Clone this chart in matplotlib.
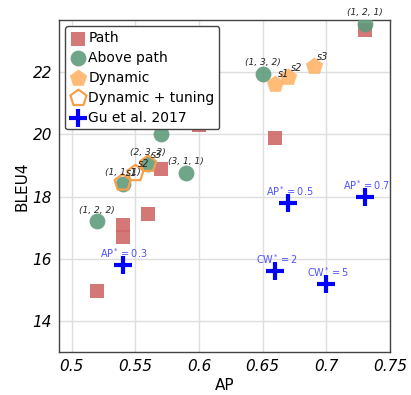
import matplotlib
matplotlib.use("Agg")
import matplotlib.pyplot as plt

# Path configurations
path_ap = [0.52, 0.54, 0.54, 0.56, 0.57, 0.60, 0.66, 0.73]
path_bleu = [14.95, 17.1, 16.7, 17.45, 18.9, 20.3, 19.9, 23.35]

# Above-path configurations with their (a, b, c) labels
above_ap = [0.73, 0.65, 0.57, 0.56, 0.59, 0.54, 0.52]
above_bleu = [23.57, 21.96, 20.0, 19.05, 18.75, 18.4, 17.2]
above_labels = ["(1, 2, 1)", "(1, 3, 2)", "(2, 1, 1)", "(2, 3, 2)",
                "(3, 1, 1)", "(1, 1, 1)", "(1, 2, 2)"]

# Dynamic strategies
dyn_ap = [0.66, 0.67, 0.69]
dyn_bleu = [21.64, 21.84, 22.2]
dyn_labels = ["s1", "s2", "s3"]

# Dynamic strategies with tuning
tune_ap = [0.54, 0.55, 0.56]
tune_bleu = [18.45, 18.75, 19.05]
tune_labels = ["s1", "s2", "s3"]

# Gu et al. 2017 baselines
gu_ap = [0.54, 0.67, 0.73, 0.66, 0.70]
gu_bleu = [15.8, 17.8, 18.0, 15.6, 15.2]
gu_labels = [r"AP$^*\mathit{=0.3}$", r"AP$^*\mathit{=0.5}$", r"AP$^*\mathit{=0.7}$",
             r"CW$^*\mathit{=2}$", r"CW$^*\mathit{=5}$"]

x_ticks = [0.5, 0.55, 0.6, 0.65, 0.7, 0.75]
y_ticks = [14, 16, 18, 20, 22]

plt.rcParams["font.family"] = ["DejaVu Sans"]
plt.rcParams["mathtext.fontset"] = "dejavusans"

fig = plt.figure(figsize=(4.11, 3.95), dpi=100)
ax = fig.add_axes([0.1436, 0.109, 0.8054, 0.840])

red = "#d06868"
green = "#5f9b7c"
orange = "#ffb468"
orange_edge = "#f6a04c"
blue = "#0000ff"

ax.scatter(path_ap, path_bleu, marker="s", s=110, color=red, alpha=0.9,
           linewidths=0, label="Path", zorder=3)
ax.scatter(above_ap, above_bleu, marker="o", s=130, color=green, alpha=0.9,
           linewidths=0, label="Above path", zorder=4)
ax.scatter(dyn_ap, dyn_bleu, marker="p", s=170, color=orange, alpha=0.9,
           linewidths=0, label="Dynamic", zorder=5)
ax.scatter(tune_ap, tune_bleu, marker="p", s=150, facecolor="none",
           edgecolor=orange_edge, linewidths=1.6, label="Dynamic + tuning", zorder=6)
ax.scatter(gu_ap, gu_bleu, marker="+", s=160, color=blue, linewidths=3,
           label="Gu et al. 2017", zorder=7)

for x, y, t in zip(above_ap, above_bleu, above_labels):
    ax.annotate(t, (x, y), xytext=(0, 5), textcoords="offset points",
                ha="center", va="bottom", fontsize=6.5, style="italic",
                color="#222222", zorder=8, annotation_clip=False)
for x, y, t in zip(dyn_ap, dyn_bleu, dyn_labels):
    ax.annotate(t, (x, y), xytext=(2, 3), textcoords="offset points",
                ha="left", va="bottom", fontsize=7, style="italic",
                color="#222222", zorder=8)
for x, y, t in zip(tune_ap, tune_bleu, tune_labels):
    ax.annotate(t, (x, y), xytext=(2, 3), textcoords="offset points",
                ha="left", va="bottom", fontsize=7, style="italic",
                color="#222222", zorder=8)
for x, y, t in zip(gu_ap, gu_bleu, gu_labels):
    ax.annotate(t, (x, y), xytext=(1, 3.5), textcoords="offset points",
                ha="center", va="bottom", fontsize=7, color="#5050ff", zorder=8)

ax.set_xlim(0.49, 0.75)
ax.set_ylim(13, 23.68)
ax.set_xticks(x_ticks)
ax.set_xticklabels([f"{v:g}" for v in x_ticks], fontstyle="italic", fontsize=11)
ax.set_yticks(y_ticks)
ax.set_yticklabels([str(v) for v in y_ticks], fontstyle="italic", fontsize=11)
ax.tick_params(length=0, pad=5)
ax.grid(True, color="#dedede", linewidth=1.0, zorder=0)
ax.set_axisbelow(True)
for sp in ax.spines.values():
    sp.set_color("#444444")
    sp.set_linewidth(1.0)

ax.set_xlabel("AP", fontsize=11, labelpad=3)
ax.set_ylabel("BLEU4", fontsize=11, labelpad=2)

leg = ax.legend(loc="upper left", fontsize=10, frameon=True, fancybox=True,
                handletextpad=0.1, borderpad=0.35, labelspacing=0.42,
                borderaxespad=0.45, handlelength=1.2)
leg.get_frame().set_edgecolor("#444444")
leg.get_frame().set_linewidth(1.0)
leg.get_frame().set_alpha(1.0)
leg.set_zorder(10)

fig.savefig("out.png", dpi=100)
